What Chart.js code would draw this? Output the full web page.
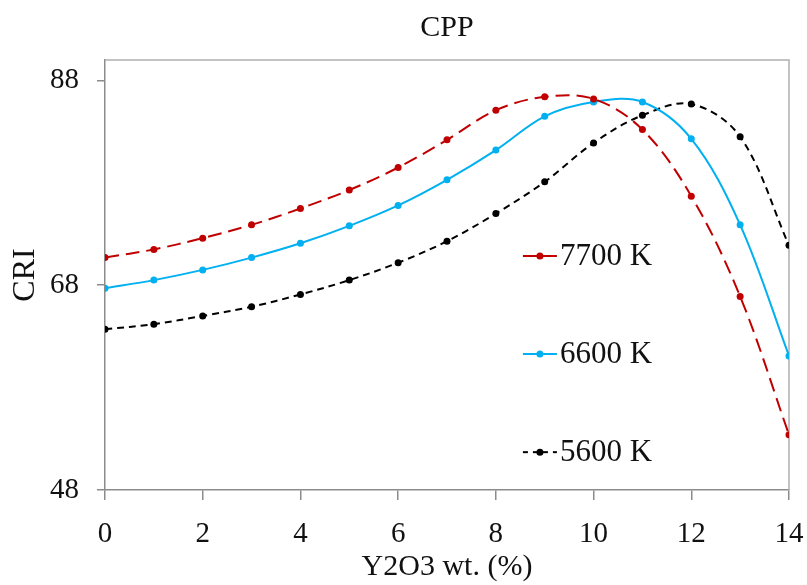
<!DOCTYPE html>
<html>
<head>
  <title>CPP CRI</title>
  <script src="https://cdn.jsdelivr.net/npm/chart.js"></script>
  <style>
    body { margin: 0; background: white; }
    #wrap { width: 807px; height: 585px; }
  </style>
</head>
<body>
  <div id="wrap"><canvas id="criChart" width="807" height="585"></canvas></div>

  <script>
    const xValues = [0, 1, 2, 3, 4, 5, 6, 7, 8, 9, 10, 11, 12, 13, 14];
    const cri7700 = [70.7, 71.5, 72.6, 73.9, 75.5, 77.3, 79.5, 82.2, 85.1, 86.4, 86.2, 83.2, 76.7, 66.9, 53.4];
    const cri6600 = [67.7, 68.5, 69.5, 70.7, 72.1, 73.8, 75.8, 78.3, 81.2, 84.5, 85.9, 85.9, 82.3, 73.9, 61.1];
    const cri5600 = [63.7, 64.2, 65.0, 65.9, 67.1, 68.5, 70.2, 72.3, 75.0, 78.1, 81.9, 84.6, 85.7, 82.5, 71.9];
    const seriesLabels = ['7700 K', '6600 K', '5600 K'];
    const yTicks = [48, 68, 88];

    const serif = "'Liberation Serif', 'DejaVu Serif', serif";

    function toPoints(ys) {
      return xValues.map((x, i) => ({ x: x, y: ys[i] }));
    }

    function makeSet(label, ys, color, dash) {
      return {
        label: label,
        data: toPoints(ys),
        borderColor: color,
        backgroundColor: color,
        borderWidth: 2,
        borderDash: dash,
        pointRadius: 3.5,
        pointBorderWidth: 0,
        pointBackgroundColor: color,
        tension: 0.35
      };
    }

    // plot frame (top + right edges) like the Excel plot area box
    const frame = {
      id: 'frame',
      beforeDatasetsDraw(chart) {
        const { ctx, chartArea: a } = chart;
        ctx.save();
        ctx.strokeStyle = '#b0b0b0';
        ctx.lineWidth = 1.5;
        ctx.beginPath();
        ctx.moveTo(a.left, a.top);
        ctx.lineTo(a.right, a.top);
        ctx.lineTo(a.right, a.bottom);
        ctx.stroke();
        ctx.restore();
      }
    };

    // legend sits inside the plot, one entry per row, spread down the right side
    const insideLegend = {
      id: 'insideLegend',
      afterDatasetsDraw(chart) {
        const { ctx, chartArea: a } = chart;
        const x0 = a.left + 0.611 * (a.right - a.left);
        const rows = [0.456, 0.684, 0.912];
        ctx.save();
        chart.data.datasets.forEach((ds, i) => {
          const y = a.top + rows[i] * (a.bottom - a.top);
          ctx.strokeStyle = ds.borderColor;
          ctx.lineWidth = 2;
          ctx.setLineDash(i === 2 ? [5, 5] : []);
          ctx.beginPath();
          ctx.moveTo(x0, y);
          ctx.lineTo(x0 + 34, y);
          ctx.stroke();
          ctx.setLineDash([]);
          ctx.fillStyle = ds.borderColor;
          ctx.beginPath();
          ctx.arc(x0 + 17, y, 3.5, 0, Math.PI * 2);
          ctx.fill();
          ctx.fillStyle = '#111';
          ctx.font = '31px ' + serif;
          ctx.textBaseline = 'middle';
          ctx.textAlign = 'left';
          ctx.fillText(ds.label, x0 + 37, y + 1);
        });
        ctx.restore();
      }
    };

    const ctx = document.getElementById('criChart').getContext('2d');
    const criChart = new Chart(ctx, {
      type: 'line',
      data: {
        datasets: [
          makeSet(seriesLabels[0], cri7700, '#c00000', [14, 7]),
          makeSet(seriesLabels[1], cri6600, '#00b0f0', []),
          makeSet(seriesLabels[2], cri5600, '#000000', [7, 5])
        ]
      },
      options: {
        responsive: false,
        animation: false,
        layout: { padding: { left: 0, right: 18, top: 0, bottom: 0 } },
        plugins: {
          legend: { display: false },
          tooltip: { enabled: false },
          title: {
            display: true,
            text: 'CPP',
            fullSize: false,
            color: '#111',
            font: { family: serif, size: 30, weight: 'normal', lineHeight: 1.2 },
            padding: { top: 10, bottom: 14 }
          }
        },
        scales: {
          x: {
            type: 'linear',
            min: 0,
            max: 14,
            afterFit(scale) {
              scale.height = 95;
              scale.paddingLeft = 0;
              scale.paddingRight = 0;
            },
            border: { color: '#8c8c8c', width: 1.5 },
            grid: { display: true, drawOnChartArea: false, drawTicks: true, tickLength: 10, color: '#8c8c8c', lineWidth: 1.5 },
            ticks: {
              stepSize: 2,
              color: '#111',
              padding: 17,
              font: { family: serif, size: 29 }
            },
            title: {
              display: true,
              text: 'Y2O3 wt. (%)',
              color: '#111',
              font: { family: serif, size: 30, lineHeight: 1.2 },
              padding: { top: 0, bottom: 0 }
            }
          },
          y: {
            min: 48,
            max: 90,
            afterFit(scale) {
              scale.width = 105;
              scale.paddingTop = 0;
              scale.paddingBottom = 0;
            },
            afterBuildTicks(scale) { scale.ticks = yTicks.map(v => ({ value: v })); },
            border: { color: '#8c8c8c', width: 1.5 },
            grid: { display: true, drawOnChartArea: false, drawTicks: true, tickLength: 8, color: '#8c8c8c', lineWidth: 1.5 },
            ticks: {
              color: '#111',
              padding: 18,
              font: { family: serif, size: 29 }
            },
            title: {
              display: true,
              text: 'CRI',
              color: '#111',
              font: { family: serif, size: 32, lineHeight: 1.2 },
              padding: { top: 6, bottom: 0 }
            }
          }
        }
      },
      plugins: [frame, insideLegend]
    });
  </script>
</body>
</html>
